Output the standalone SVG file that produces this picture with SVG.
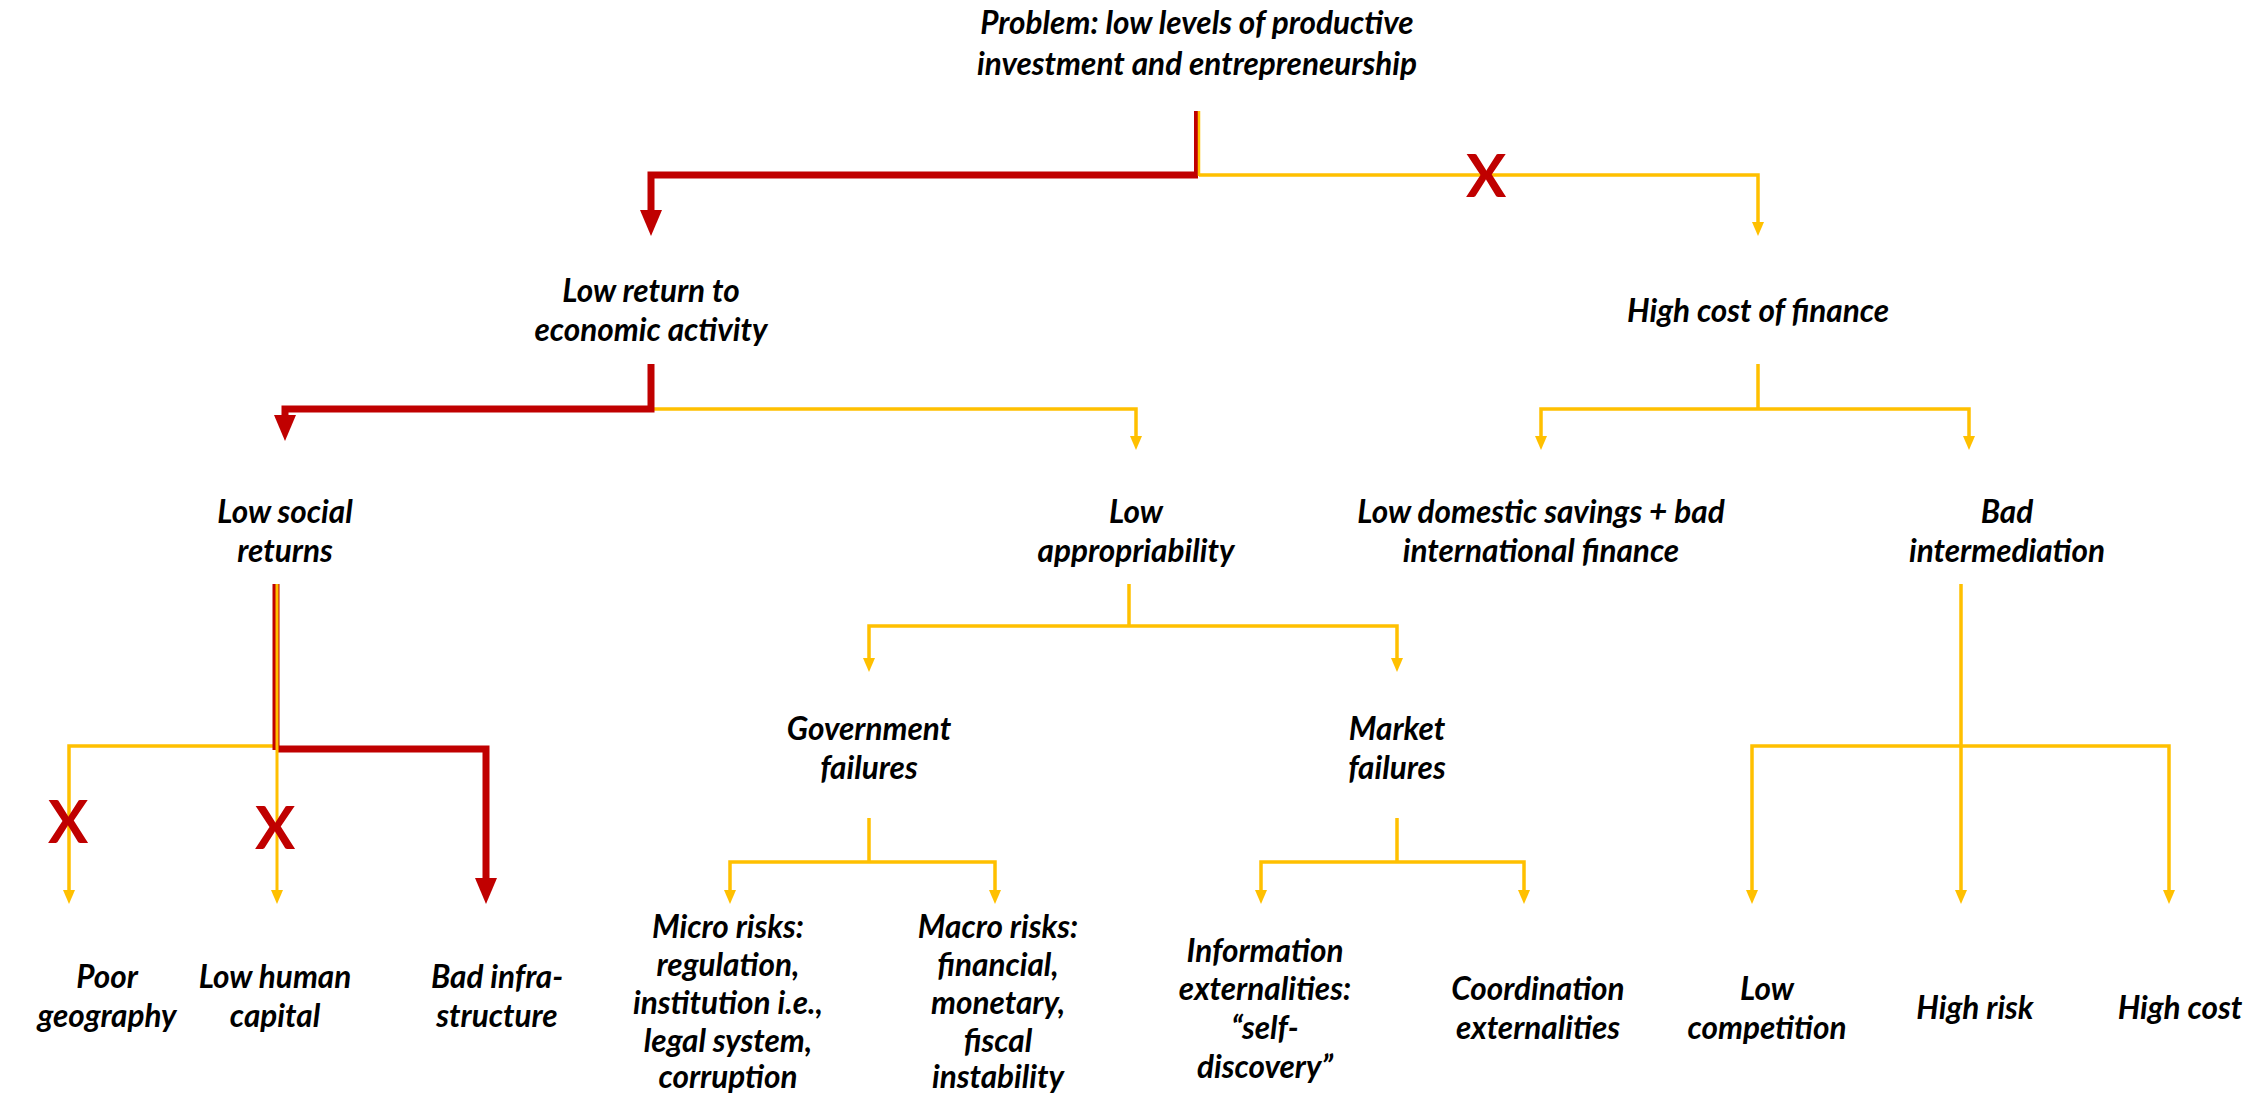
<svg xmlns="http://www.w3.org/2000/svg" width="2267" height="1097" viewBox="0 0 2267 1097">
  <style>
    .lbl { font-family: Lato, "Open Sans", "Liberation Sans", sans-serif; font-size: 31.5px; font-weight: bold; font-style: italic; fill: #000; text-anchor: middle; }
    .cross { font-family: Lato, "Liberation Sans", sans-serif; font-size: 60px; font-weight: bold; fill: #C00000; text-anchor: middle; }
    .y { fill: none; stroke: #FFC000; stroke-width: 3.5; }
    .r { fill: none; stroke: #C00000; stroke-width: 7; }
    .ya { fill: #FFC000; }
    .ra { fill: #C00000; }
  </style>
  <defs>
    <polygon id="ahY" points="-6,-14 6,-14 0,0"/>
    <polygon id="ahR" points="-11,-26 11,-26 0,0"/>
  </defs>
  <rect width="2267" height="1097" fill="#fff"/>

  <g id="connectors">
    <!-- root split -->
    <path class="y" d="M1199,175 H1758 V222"/>
    <use href="#ahY" class="ya" x="1758" y="236"/>
    <path class="r" d="M1198,175 H651 V212"/>
    <use href="#ahR" class="ra" x="651" y="236"/>
    <line x1="1197" y1="111" x2="1197" y2="176" stroke="#C00000" stroke-width="6"/>
    <line x1="1199" y1="111" x2="1199" y2="176" stroke="#FFC000" stroke-width="2.5"/>

    <!-- low return to economic activity -->
    <path class="y" d="M651,409 H1136 V436"/>
    <use href="#ahY" class="ya" x="1136" y="450"/>
    <path class="r" d="M651,364 V409 H285 V417"/>
    <use href="#ahR" class="ra" x="285" y="441"/>

    <!-- high cost of finance -->
    <path class="y" d="M1758,364 V409 M1541,436 V409 H1969 V436"/>
    <use href="#ahY" class="ya" x="1541" y="450"/>
    <use href="#ahY" class="ya" x="1969" y="450"/>

    <!-- low social returns -->
    <path class="y" d="M276,746 H69 V890"/>
    <use href="#ahY" class="ya" x="69" y="904"/>
    <path class="r" d="M276,749 H486 V880"/>
    <use href="#ahR" class="ra" x="486" y="904"/>
    <line x1="276" y1="584" x2="276" y2="750" stroke="#C00000" stroke-width="7"/>
    <line x1="277" y1="584" x2="277" y2="890" stroke="#FFC000" stroke-width="3"/>
    <use href="#ahY" class="ya" x="277" y="904"/>

    <!-- low appropriability -->
    <path class="y" d="M1129,584 V626 M869,658 V626 H1397 V658"/>
    <use href="#ahY" class="ya" x="869" y="672"/>
    <use href="#ahY" class="ya" x="1397" y="672"/>

    <!-- government failures -->
    <path class="y" d="M869,818 V862 M730,890 V862 H995 V890"/>
    <use href="#ahY" class="ya" x="730" y="904"/>
    <use href="#ahY" class="ya" x="995" y="904"/>

    <!-- market failures -->
    <path class="y" d="M1397,818 V862 M1261,890 V862 H1524 V890"/>
    <use href="#ahY" class="ya" x="1261" y="904"/>
    <use href="#ahY" class="ya" x="1524" y="904"/>

    <!-- bad intermediation -->
    <path class="y" d="M1961,584 V890 M1752,890 V746 H2169 V890"/>
    <use href="#ahY" class="ya" x="1752" y="904"/>
    <use href="#ahY" class="ya" x="1961" y="904"/>
    <use href="#ahY" class="ya" x="2169" y="904"/>

    <!-- rejected branches -->
    <text class="cross" x="1486" y="197">X</text>
    <text class="cross" x="68" y="843">X</text>
    <text class="cross" x="275" y="849">X</text>
  </g>

  <g id="n-problem"><text class="lbl" x="1197" y="34">Problem: low levels of productive</text><text class="lbl" x="1197" y="75">investment and entrepreneurship</text></g>
  <g id="n-low-return"><text class="lbl" x="651" y="302">Low return to</text><text class="lbl" x="651" y="341">economic activity</text></g>
  <g id="n-high-cost-finance"><text class="lbl" x="1758" y="322">High cost of finance</text></g>
  <g id="n-low-social"><text class="lbl" x="285" y="523">Low social</text><text class="lbl" x="285" y="562">returns</text></g>
  <g id="n-low-approp"><text class="lbl" x="1136" y="523">Low</text><text class="lbl" x="1136" y="562">appropriability</text></g>
  <g id="n-low-savings"><text class="lbl" x="1541" y="523">Low domestic savings + bad</text><text class="lbl" x="1541" y="562">international finance</text></g>
  <g id="n-bad-intermed"><text class="lbl" x="2007" y="523">Bad</text><text class="lbl" x="2007" y="562">intermediation</text></g>
  <g id="n-gov-fail"><text class="lbl" x="869" y="740">Government</text><text class="lbl" x="869" y="779">failures</text></g>
  <g id="n-market-fail"><text class="lbl" x="1397" y="740">Market</text><text class="lbl" x="1397" y="779">failures</text></g>
  <g id="n-poor-geo"><text class="lbl" x="107" y="988">Poor</text><text class="lbl" x="107" y="1027">geography</text></g>
  <g id="n-low-human"><text class="lbl" x="275" y="988">Low human</text><text class="lbl" x="275" y="1027">capital</text></g>
  <g id="n-bad-infra"><text class="lbl" x="497" y="988">Bad infra-</text><text class="lbl" x="497" y="1027">structure</text></g>
  <g id="n-micro"><text class="lbl" x="728" y="938">Micro risks:</text><text class="lbl" x="728" y="976">regulation,</text><text class="lbl" x="728" y="1014">institution i.e.,</text><text class="lbl" x="728" y="1052">legal system,</text><text class="lbl" x="728" y="1088">corruption</text></g>
  <g id="n-macro"><text class="lbl" x="998" y="938">Macro risks:</text><text class="lbl" x="998" y="976">financial,</text><text class="lbl" x="998" y="1014">monetary,</text><text class="lbl" x="998" y="1052">fiscal</text><text class="lbl" x="998" y="1088">instability</text></g>
  <g id="n-info-ext"><text class="lbl" x="1265" y="962">Information</text><text class="lbl" x="1265" y="1000">externalities:</text><text class="lbl" x="1265" y="1039">“self-</text><text class="lbl" x="1265" y="1078">discovery”</text></g>
  <g id="n-coord-ext"><text class="lbl" x="1538" y="1000">Coordination</text><text class="lbl" x="1538" y="1039">externalities</text></g>
  <g id="n-low-comp"><text class="lbl" x="1767" y="1000">Low</text><text class="lbl" x="1767" y="1039">competition</text></g>
  <g id="n-high-risk"><text class="lbl" x="1975" y="1019">High risk</text></g>
  <g id="n-high-cost"><text class="lbl" x="2180" y="1019">High cost</text></g>
</svg>
